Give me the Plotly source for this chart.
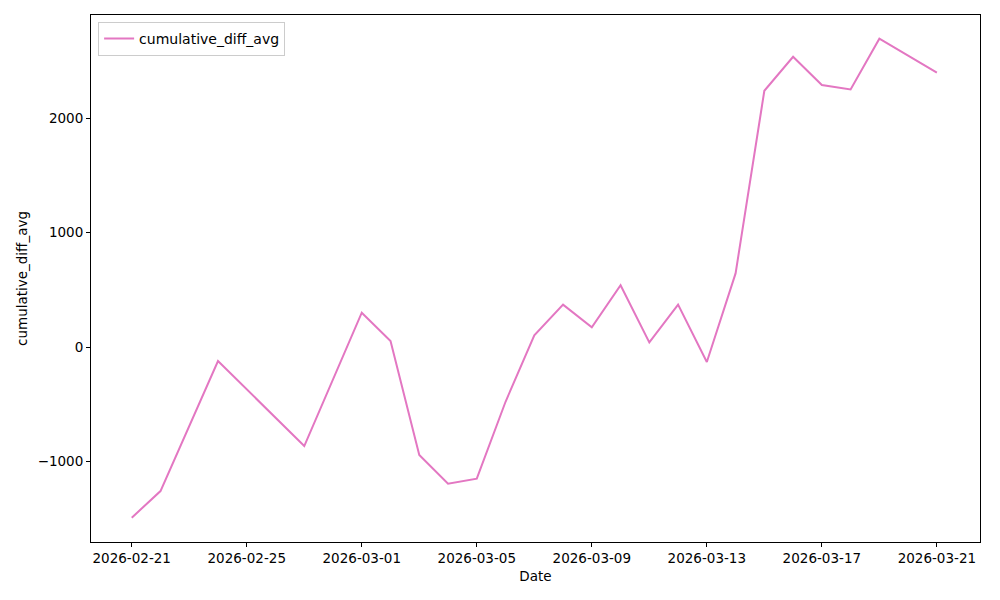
import plotly.graph_objects as go

dates = [
    "2026-02-21", "2026-02-22", "2026-02-24", "2026-02-27", "2026-03-01",
    "2026-03-02", "2026-03-03", "2026-03-04", "2026-03-05", "2026-03-06",
    "2026-03-07", "2026-03-08", "2026-03-09", "2026-03-10", "2026-03-11",
    "2026-03-12", "2026-03-13", "2026-03-14", "2026-03-15", "2026-03-16",
    "2026-03-17", "2026-03-18", "2026-03-19", "2026-03-21",
]
cumulative_diff_avg = [
    -1491, -1258, -122, -865, 300,
    52, -943, -1194, -1150, -478,
    102, 370, 172, 539, 41,
    370, -131, 643, 2238, 2535,
    2288, 2250, 2693, 2396,
]

x_ticks = ["2026-02-21", "2026-02-25", "2026-03-01", "2026-03-05",
           "2026-03-09", "2026-03-13", "2026-03-17", "2026-03-21"]
y_ticks = [-1000, 0, 1000, 2000]
y_labels = ["\u22121000", "0", "1000", "2000"]

fig = go.Figure()

fig.add_trace(go.Scatter(
    x=dates,
    y=cumulative_diff_avg,
    mode="lines",
    name="cumulative_diff_avg",
    line=dict(color="#e377c2", width=2)
))

axis_style = dict(
    showline=True, linecolor="black", linewidth=1, mirror=True,
    ticks="outside", ticklen=4, tickcolor="black", tickwidth=1,
    showgrid=False, zeroline=False,
    tickfont=dict(size=13.5, color="black"),
)

fig.update_xaxes(
    range=["2026-02-19 14:00", "2026-03-22 12:00"],
    tickvals=x_ticks, ticktext=x_ticks,
    title=dict(text="Date", font=dict(size=13.5, color="black"), standoff=6),
    **axis_style
)
fig.update_yaxes(
    range=[-1703, 2900],
    tickvals=y_ticks, ticktext=y_labels,
    title=dict(text="cumulative_diff_avg", font=dict(size=13.5, color="black"), standoff=6),
    **axis_style
)

# page body adds an 8px offset, so the figure is sized to fit the window
fig.update_layout(
    width=992, height=592,
    plot_bgcolor="white", paper_bgcolor="white",
    font=dict(family="DejaVu Sans", size=13.5, color="black"),
    margin=dict(l=83, r=20, t=7, b=58),
    showlegend=True,
    legend=dict(
        x=0.008, y=0.987, xanchor="left", yanchor="top",
        bgcolor="rgba(255,255,255,0.8)", bordercolor="#cccccc", borderwidth=1,
        font=dict(size=14),
    ),
)

fig.write_html("out.html")
